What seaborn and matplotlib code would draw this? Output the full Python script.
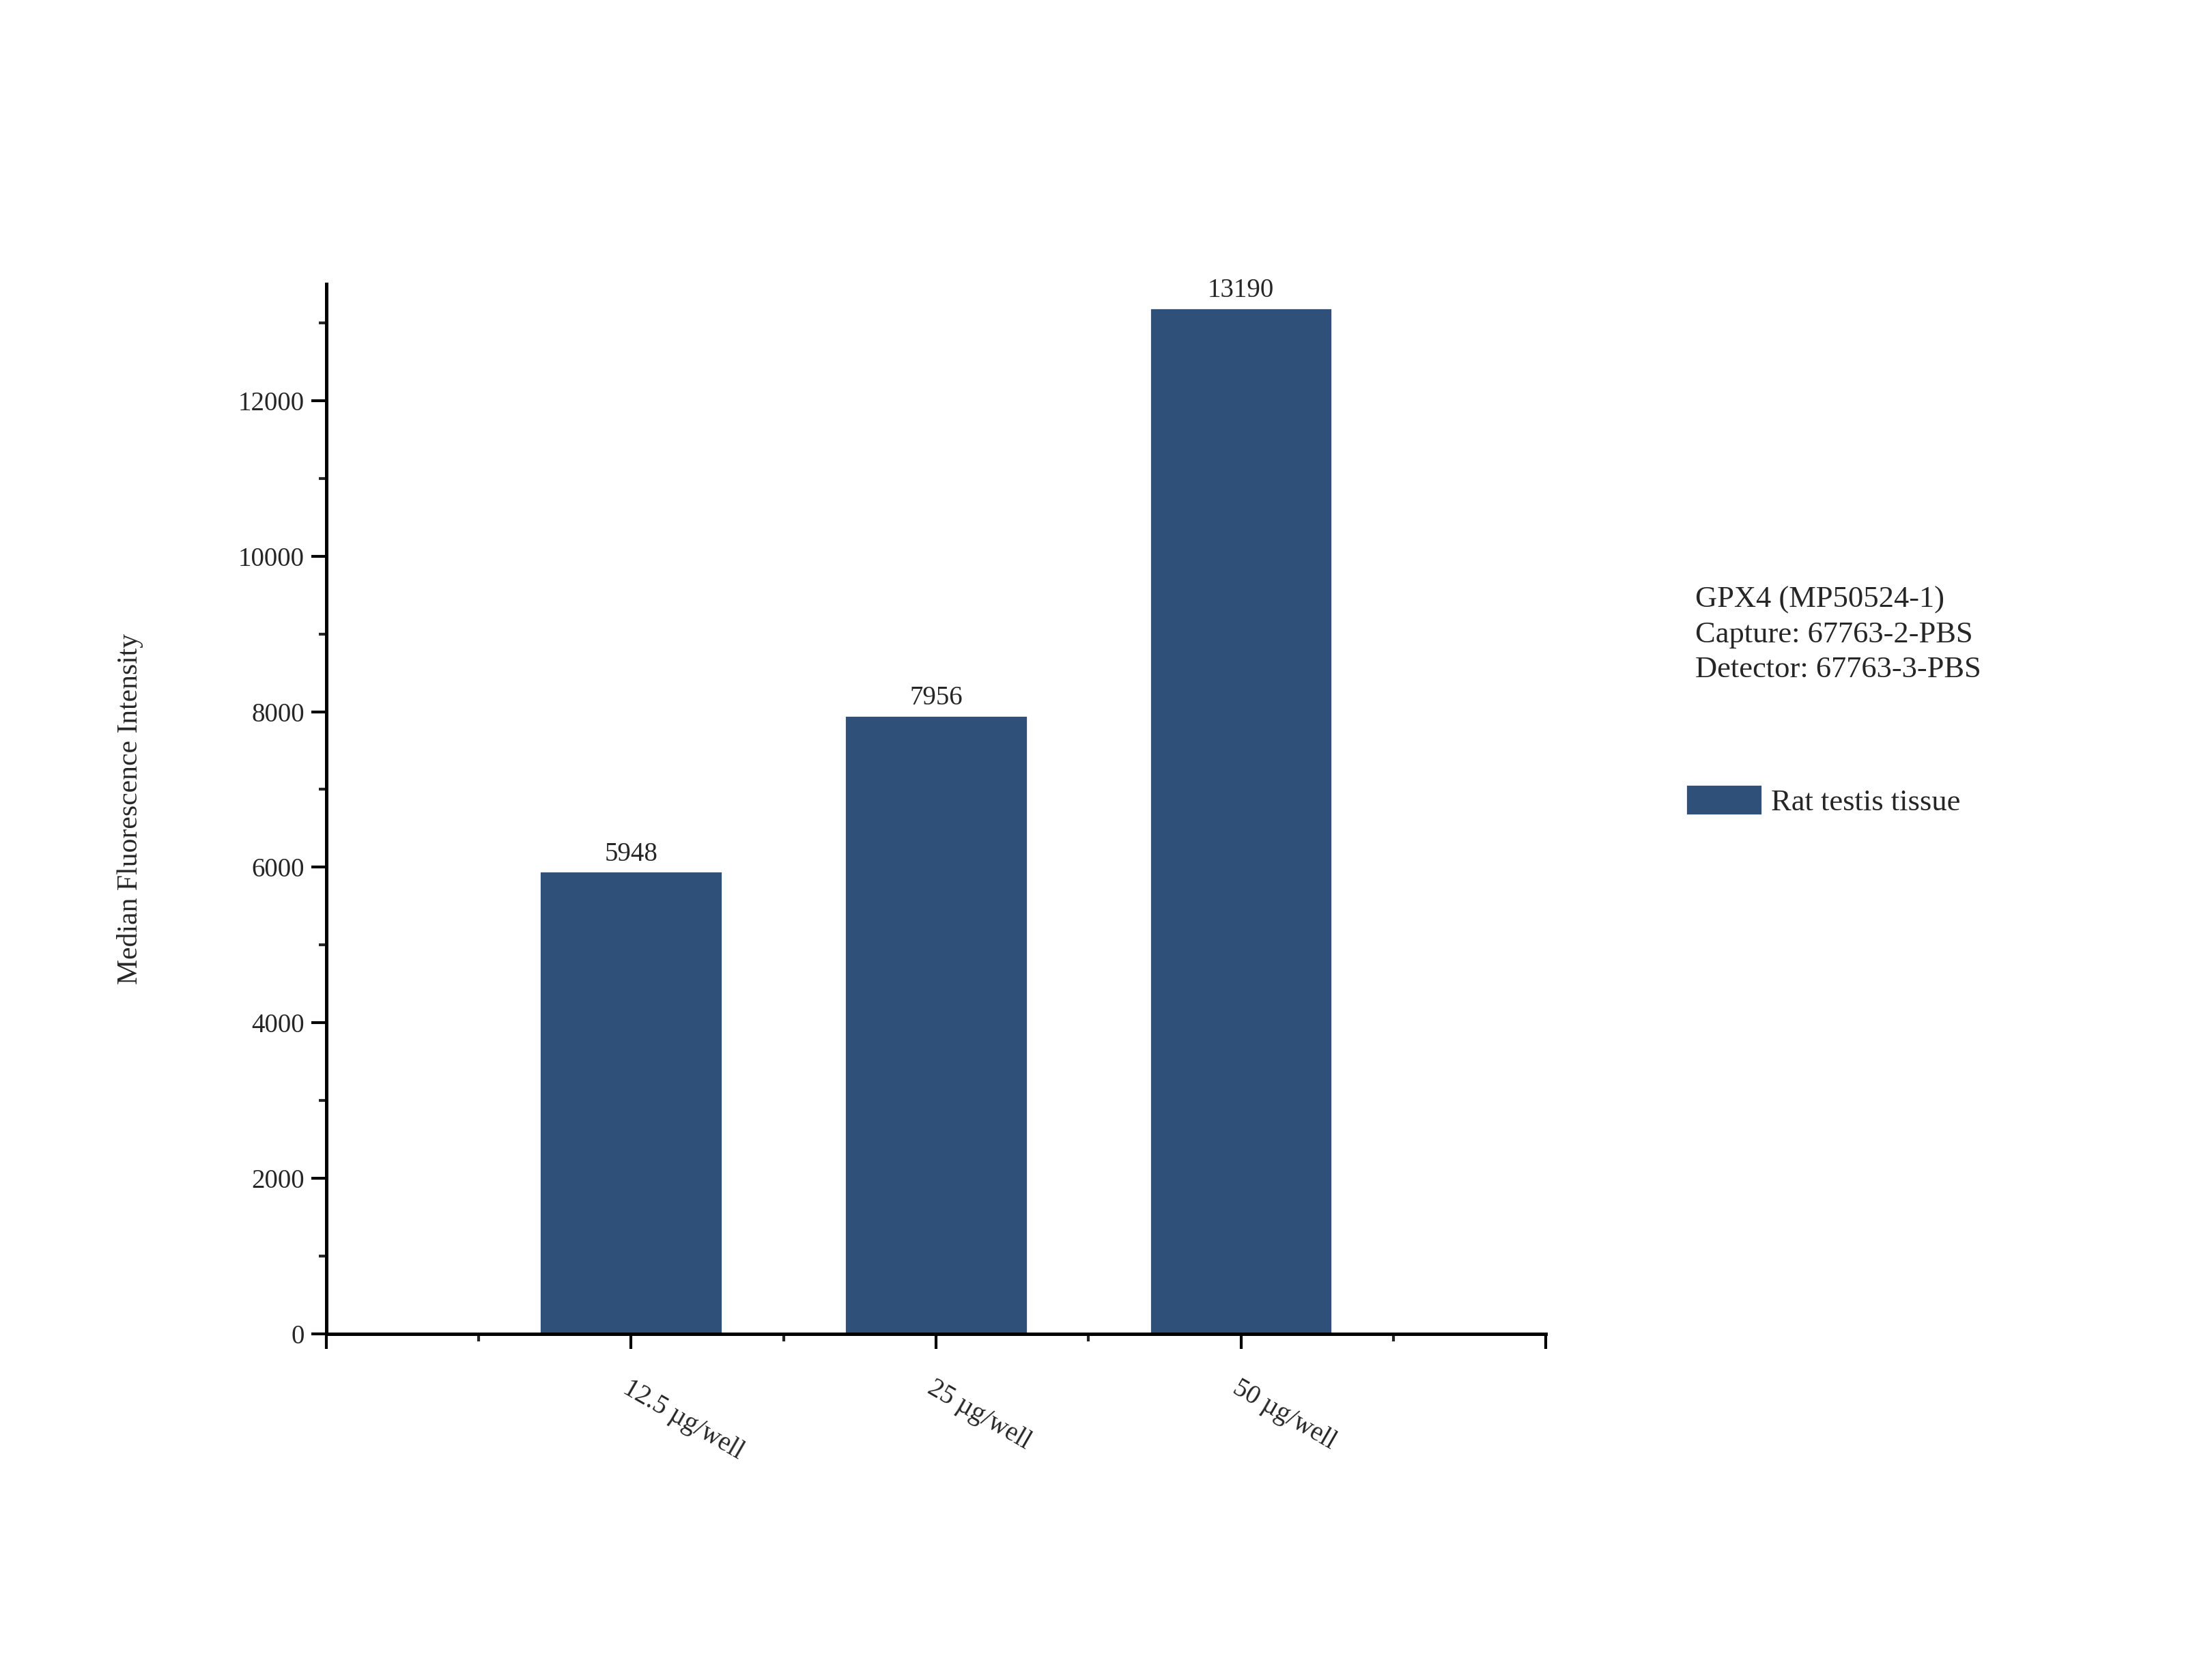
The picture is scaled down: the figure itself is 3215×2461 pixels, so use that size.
import matplotlib.pyplot as plt
import matplotlib.ticker as mticker
import seaborn as sns

categories = ['12.5 µg/well', '25 µg/well', '50 µg/well']
values = [5948, 7956, 13190]
series_name = 'Rat testis tissue'
bar_color = '#2f5078'

sns.set_style('ticks')
plt.rcParams['font.family'] = ['Liberation Serif', 'DejaVu Serif']

fig = plt.figure(figsize=(16.08, 12.305), dpi=200)
ax = fig.add_axes([0.1486, 0.206, 0.5554, 0.625])

sns.barplot(x=categories, y=values, width=0.6, color=bar_color, saturation=1,
            label=series_name, ax=ax)

ax.set_xlim(-1, 3)
ax.set_ylim(0, 13500)
for i, v in enumerate(values):
    ax.text(i, v + 60, str(v), ha='center', va='bottom', fontsize=14)

ax.yaxis.set_major_locator(mticker.MultipleLocator(2000))
ax.yaxis.set_minor_locator(mticker.MultipleLocator(1000))
ax.set_xticks([-1, 0, 1, 2, 3])
ax.set_xticklabels([''] + categories + [''], rotation=-30, ha='left',
                   rotation_mode='anchor', fontsize=14)
ax.xaxis.set_minor_locator(mticker.FixedLocator([-0.5, 0.5, 1.5, 2.5]))
ax.tick_params(axis='both', which='major', length=8, width=1.5, direction='out',
               labelsize=14, color='black')
ax.tick_params(axis='both', which='minor', length=4, width=1.5, direction='out')
ax.tick_params(axis='x', pad=14)
for s in ['left', 'bottom']:
    ax.spines[s].set_linewidth(1.8)
    ax.spines[s].set_color('black')
sns.despine(ax=ax)
ax.set_xlabel('')
ax.set_ylabel('Median Fluorescence Intensity', fontsize=15, labelpad=50)

fig.text(0.772, 0.651, 'GPX4 (MP50524-1)\nCapture: 67763-2-PBS\nDetector: 67763-3-PBS',
         fontsize=16, va='top', ha='left', linespacing=1.35)
ax.legend(loc='upper left', bbox_to_anchor=(1.105, 0.535), frameon=False,
          fontsize=16, handlelength=2.5, handleheight=1.2, handletextpad=0.3,
          borderaxespad=0)

fig.savefig('out.png', dpi=200)
